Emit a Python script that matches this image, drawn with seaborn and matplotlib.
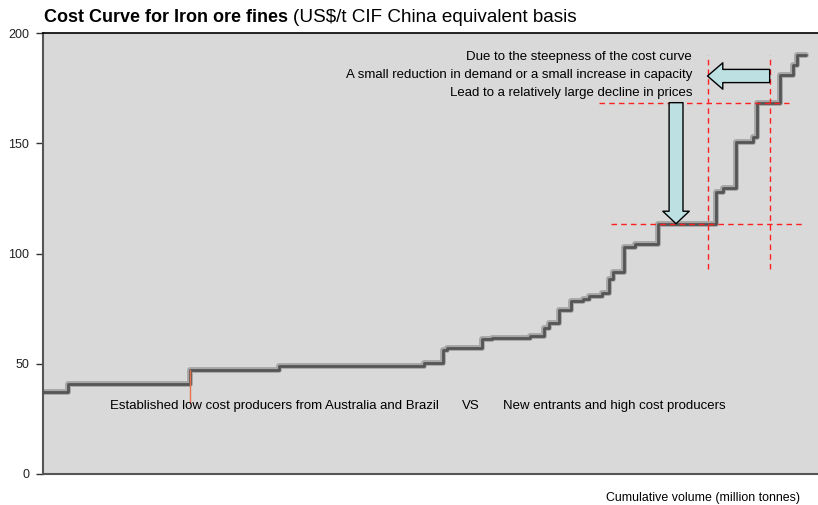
import numpy as np
import pandas as pd
import matplotlib
matplotlib.use("Agg")
import matplotlib.pyplot as plt
import seaborn as sns

# cumulative volume breakpoints (million tonnes) and cost of each step (US$/t)
volume_edges = [0, 32, 192, 307, 497, 521, 526, 572, 585, 635, 653, 660, 672, 688,
                704, 712, 729, 737, 743, 757, 771, 802, 877, 886, 903, 925, 931,
                960, 978, 983, 994]
step_cost = [37.3, 40.7, 47.3, 49.2, 50.5, 56.1, 57.3, 61.0, 61.8, 62.5, 66.4, 68.7,
             74.4, 78.6, 79.4, 80.7, 81.9, 88.4, 91.4, 103.0, 104.3, 113.5, 128.0,
             129.5, 150.4, 152.8, 168.4, 180.8, 185.6, 190.0]

y_ticks = [0, 50, 100, 150, 200]

note_lines = ["Due to the steepness of the cost curve",
              "A small reduction in demand or a small increase in capacity",
              "Lead to a relatively large decline in prices"]

df = pd.DataFrame({"volume": volume_edges,
                   "cost": step_cost + [step_cost[-1]]})

sns.set_style("white")
plt.rcParams['font.family'] = ['Liberation Sans', 'DejaVu Sans']
plt.rcParams['text.color'] = 'black'
plt.rcParams['ytick.color'] = '#333333'
plt.rcParams['ytick.labelcolor'] = '#222222'

fig = plt.figure(figsize=(8.18, 5.05), dpi=100)
ax = fig.add_axes([43/818, 31/505, 775/818, 441/505])
ax.set_facecolor("#d9d9d9")

# halo + dark line for the step curve
sns.lineplot(data=df, x="volume", y="cost", drawstyle="steps-post", ax=ax,
             color="#9a9a9a", linewidth=4.2, alpha=0.8)
sns.lineplot(data=df, x="volume", y="cost", drawstyle="steps-post", ax=ax,
             color="#555555", linewidth=2.0)

# thin orange marker under the step at ~192 Mt
ax.plot([192, 192], [32, step_cost[2]], color="#e8704a", linewidth=1)

# red dashed guides
red = dict(color="#ff2020", linestyle=(0, (4, 3)), linewidth=1)
ax.plot([724, 972], [step_cost[26]] * 2, **red)
ax.plot([740, 989], [step_cost[21]] * 2, **red)
ax.plot([866, 866], [93, 190], **red)
ax.plot([947, 947], [93, 190], **red)

arrow = dict(arrowstyle="simple,head_width=19,head_length=11,tail_width=9.5",
             mutation_scale=1, fc="#bde0e3", ec="black", lw=1,
             shrinkA=0, shrinkB=0)
ax.annotate("", xy=(866, 180.5), xytext=(947, 180.5), arrowprops=arrow)
ax.annotate("", xy=(825, step_cost[21]), xytext=(825, step_cost[26]),
            arrowprops=dict(arrow, arrowstyle="simple,head_width=19,head_length=9,tail_width=10"))

for i, line in enumerate(note_lines):
    ax.text(846, 189 - i * 8, line, ha="right", va="center", fontsize=9.5)

ax.text(87, 31, "Established low cost producers from Australia and Brazil",
        ha="left", va="center", fontsize=9.5)
ax.text(546, 31, "VS", ha="left", va="center", fontsize=9.5)
ax.text(599, 31, "New entrants and high cost producers", ha="left", va="center", fontsize=9.5)

ax.set_xlim(0, 1010)
ax.set_ylim(0, 200)
ax.set_xticks([])
ax.set_yticks(y_ticks)
ax.set_yticklabels([str(t) for t in y_ticks], fontsize=9)
ax.tick_params(axis="y", direction="out", length=5, width=1, pad=5, left=True)
ax.set_xlabel("")
ax.set_ylabel("")

for side in ["left", "bottom"]:
    ax.spines[side].set_color("#555555")
    ax.spines[side].set_linewidth(1.5)
ax.spines["top"].set_color("black")
ax.spines["top"].set_linewidth(1.2)
ax.spines["right"].set_visible(False)

# title: bold part followed by normal part
t1 = fig.text(44/818, 1 - 17/505, "Cost Curve for Iron ore fines", fontsize=13,
              fontweight="bold", ha="left", va="center")
fig.canvas.draw()
bb = t1.get_window_extent()
fig.text(bb.x1 / fig.bbox.width + 0.006, 1 - 17/505, "(US$/t CIF China equivalent basis",
         fontsize=13.6, ha="left", va="center")

fig.text(800/818, 1 - 498/505, "Cumulative volume (million tonnes)", fontsize=8.9,
         ha="right", va="center")

plt.savefig("out.png", dpi=100)
